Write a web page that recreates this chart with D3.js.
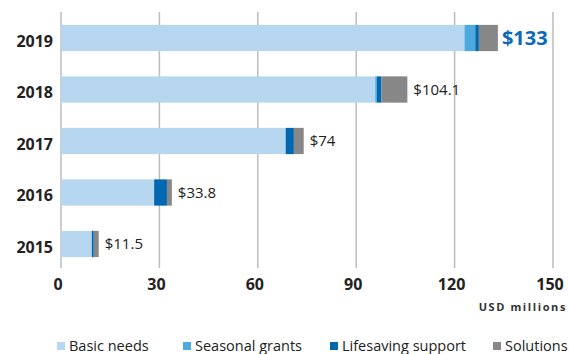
<html>
<head>
  <script src="https://d3js.org/d3.v7.min.js"></script>
  <style>
    body { margin: 0; background: #fff; }
    text { font-family: "Open Sans", sans-serif; }
  </style>
</head>
<body>
  <div id="chart"></div>
  <script>
    // data (USD millions)
    var years = ["2019", "2018", "2017", "2016", "2015"];
    var basicNeeds = [123.0, 95.8, 68.5, 28.4, 9.4];
    var seasonalGrants = [3.3, 0.5, 0, 0, 0];
    var lifesaving = [1.1, 1.4, 2.5, 3.9, 0.6];
    var solutions = [5.8, 7.9, 3.0, 1.5, 1.5];
    var totalLabels = ["$133", "$104.1", "$74", "$33.8", "$11.5"];
    var xTicks = [0, 30, 60, 90, 120, 150];

    var keys = ["Basic needs", "Seasonal grants", "Lifesaving support", "Solutions"];
    var colors = ["#b7d7f0", "#4eaade", "#0067b1", "#878787"];

    var rows = years.map(function(y, i) {
      return {year: y, "Basic needs": basicNeeds[i], "Seasonal grants": seasonalGrants[i],
              "Lifesaving support": lifesaving[i], "Solutions": solutions[i], label: totalLabels[i]};
    });

    var width = 569, height = 354;
    var svg = d3.select("#chart").append("svg")
      .attr("width", width).attr("height", height);

    var x = d3.scaleLinear().domain([0, 150]).range([61, 553]);
    var y = d3.scaleBand().domain(years).range([12, 270]).paddingInner(0.49).paddingOuter(0.25);
    var z = d3.scaleOrdinal().domain(keys).range(colors);

    // gridlines
    svg.append("g").selectAll("line")
      .data(xTicks).enter().append("line")
        .attr("x1", function(d) { return x(d); })
        .attr("x2", function(d) { return x(d); })
        .attr("y1", 12).attr("y2", 268)
        .attr("stroke", "#bdbdbd").attr("stroke-width", 1.5);

    // stacked bars
    svg.append("g").selectAll("g")
      .data(d3.stack().keys(keys)(rows))
      .enter().append("g")
        .attr("fill", function(d) { return z(d.key); })
      .selectAll("rect")
      .data(function(d) { return d; })
      .enter().append("rect")
        .attr("x", function(d) { return x(d[0]); })
        .attr("y", function(d) { return y(d.data.year); })
        .attr("width", function(d) { return x(d[1]) - x(d[0]); })
        .attr("height", y.bandwidth());

    // totals
    svg.append("g").selectAll("text")
      .data(rows).enter().append("text")
        .attr("x", function(d) {
          var t = keys.reduce(function(s, k) { return s + d[k]; }, 0);
          return x(t) + (d.year === "2019" ? 4 : 6);
        })
        .attr("y", function(d) { return y(d.year) + y.bandwidth() / 2; })
        .attr("dy", "0.36em")
        .attr("font-size", function(d) { return d.year === "2019" ? 20 : 15; })
        .attr("font-weight", function(d) { return d.year === "2019" ? 700 : 400; })
        .attr("fill", function(d) { return d.year === "2019" ? "#0a6bb8" : "#222"; })
        .text(function(d) { return d.label; });

    // year labels
    svg.append("g").selectAll("text")
      .data(years).enter().append("text")
        .attr("x", 53)
        .attr("y", function(d) { return y(d) + y.bandwidth() / 2 + 3; })
        .attr("dy", "0.36em")
        .attr("text-anchor", "end")
        .attr("font-size", 16).attr("font-weight", 700).attr("fill", "#222")
        .text(function(d) { return d; });

    // x tick labels
    svg.append("g").selectAll("text")
      .data(xTicks).enter().append("text")
        .attr("x", function(d) { return x(d) - 3; })
        .attr("y", 290)
        .attr("text-anchor", "middle")
        .attr("font-size", 16).attr("font-weight", 700).attr("fill", "#222")
        .text(function(d) { return d; });

    svg.append("text")
      .attr("x", 567).attr("y", 311)
      .attr("text-anchor", "end")
      .attr("font-size", 11).attr("font-weight", 700).attr("fill", "#333")
      .attr("letter-spacing", "1.6px")
      .text("USD millions");

    // legend
    var legendX = [57, 183, 330, 493];
    var legend = svg.append("g").selectAll("g")
      .data(keys).enter().append("g")
        .attr("transform", function(d, i) { return "translate(" + legendX[i] + ",341)"; });
    legend.append("rect")
      .attr("width", 8).attr("height", 8).attr("y", 1)
      .attr("fill", function(d) { return z(d); });
    legend.append("text")
      .attr("x", 12).attr("y", 5).attr("dy", "0.36em")
      .attr("font-size", 14.5).attr("fill", "#222")
      .text(function(d) { return d; });
  </script>
</body>
</html>
